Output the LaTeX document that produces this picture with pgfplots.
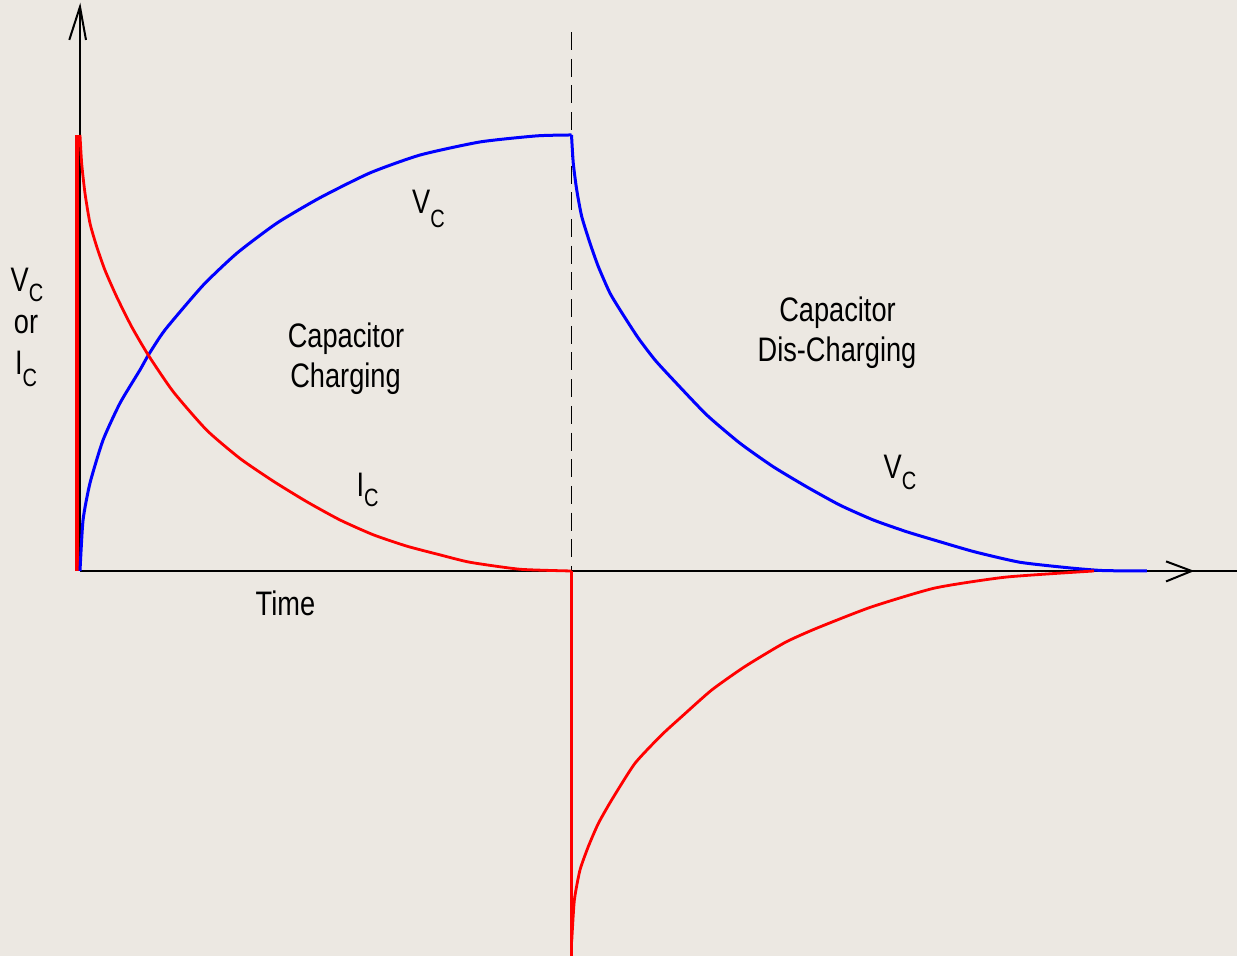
\documentclass[border=0pt]{standalone}
\usepackage{pgfplots}
\pgfplotsset{compat=1.18}
\usepackage{fontspec}
\setmainfont{Liberation Sans}[FakeStretch=0.8]
\definecolor{bgc}{RGB}{236,232,226}
\newcommand\sub[2][-6pt]{\raisebox{#1}{\fontsize{12.5}{12.5}\selectfont #2}}
\tikzset{lbl/.style={anchor=base, inner sep=0pt, font=\fontsize{17}{20}\selectfont}}
\begin{document}
\begin{tikzpicture}
\begin{axis}[
  scale only axis, width=618.5pt, height=478pt,
  xmin=-0.8138, xmax=11.770, ymin=-0.8830, ymax=1.3096,
  hide axis, clip=true,
]
\fill[bgc] (rel axis cs:-0.01,-0.01) rectangle (rel axis cs:1.01,1.01);

% red charging vertical edge
\addplot[red, line width=2.4pt] coordinates {(-0.022,0) (-0.022,1.0)};

% axes
\addplot[black, line width=1pt] coordinates {(0,0) (0,1.294)};
\addplot[black, line width=1pt] coordinates {(-0.109,1.218) (0,1.294) (0.061,1.218)};
\addplot[black, line width=1pt] coordinates {(0,0) (12.5,0)};
\addplot[black, line width=1pt] coordinates {(11.048,0.022) (11.309,0) (11.048,-0.024)};

% dashed separator
\addplot[black, line width=0.85pt, dash pattern=on 9pt off 4.35pt] coordinates {(5.0,1.236) (5.0,0)};

% Vc charging
\addplot[blue, line width=1.5pt, smooth, tension=0.35] coordinates {
(0,0) (0.031,0.117) (0.102,0.202) (0.234,0.300) (0.407,0.385) (0.610,0.461)
(0.695,0.495) (0.865,0.553) (1.251,0.655) (1.597,0.729) (2.004,0.798)
(2.441,0.856) (2.950,0.913) (3.459,0.954) (4.069,0.984) (4.649,0.998) (5.0,1.0)};

% Vc discharging
\addplot[blue, line width=1.5pt, smooth, tension=0.35] coordinates {
(5.0,1.0) (5.018,0.935) (5.053,0.874) (5.104,0.813) (5.188,0.752) (5.273,0.698)
(5.392,0.637) (5.527,0.587) (5.680,0.534) (5.849,0.484) (6.036,0.438)
(6.375,0.358) (6.714,0.293) (7.053,0.239) (7.393,0.193) (7.731,0.151)
(8.070,0.117) (8.410,0.090) (8.749,0.067) (9.100,0.044) (9.562,0.020)
(10.071,0.007) (10.407,0.001) (10.854,0.0)};

% Ic charging
\addplot[red, line width=1.4pt, smooth, tension=0.35] coordinates {
(0,1.0) (0.017,0.935) (0.051,0.866) (0.102,0.797) (0.170,0.744) (0.254,0.690)
(0.373,0.629) (0.526,0.560) (0.695,0.495) (0.949,0.411) (1.289,0.323)
(1.628,0.258) (1.966,0.206) (2.306,0.159) (2.645,0.117) (2.984,0.083)
(3.324,0.057) (3.662,0.037) (3.967,0.020) (4.476,0.004) (5.0,0)};

% Ic discharging
\addplot[red, line width=1.4pt] coordinates {(5.0,0) (5.0,-0.95)};
\addplot[red, line width=1.4pt, smooth, tension=0.35] coordinates {
(5.002,-0.850) (5.029,-0.755) (5.086,-0.686) (5.171,-0.632) (5.273,-0.579)
(5.409,-0.525) (5.646,-0.441) (5.917,-0.376) (6.121,-0.334) (6.426,-0.273)
(6.765,-0.219) (7.172,-0.164) (7.497,-0.131) (8.044,-0.083) (8.698,-0.039)
(9.420,-0.014) (10.315,0)};

% labels
\node[lbl] at (axis cs:3.545,0.821) {V\sub[-7pt]{C}};
\node[lbl] at (axis cs:2.706,0.5115) {Capacitor};
\node[lbl] at (axis cs:2.701,0.4197) {Charging};
\node[lbl] at (axis cs:2.925,0.1697) {I\sub[-5pt]{C}};
\node[lbl] at (axis cs:7.706,0.5711) {Capacitor};
\node[lbl] at (axis cs:7.701,0.4794) {Dis-Charging};
\node[lbl] at (axis cs:8.342,0.211) {V\sub[-5.5pt]{C}};
\node[lbl] at (axis cs:2.09,-0.1032) {Time};
\node[lbl] at (axis cs:-0.539,0.6400) {V\sub[-5pt]{C}};
\node[lbl] at (axis cs:-0.549,0.5440) {or};
\node[lbl] at (axis cs:-0.549,0.4495) {I\sub{C}};
\end{axis}
\end{tikzpicture}
\end{document}
